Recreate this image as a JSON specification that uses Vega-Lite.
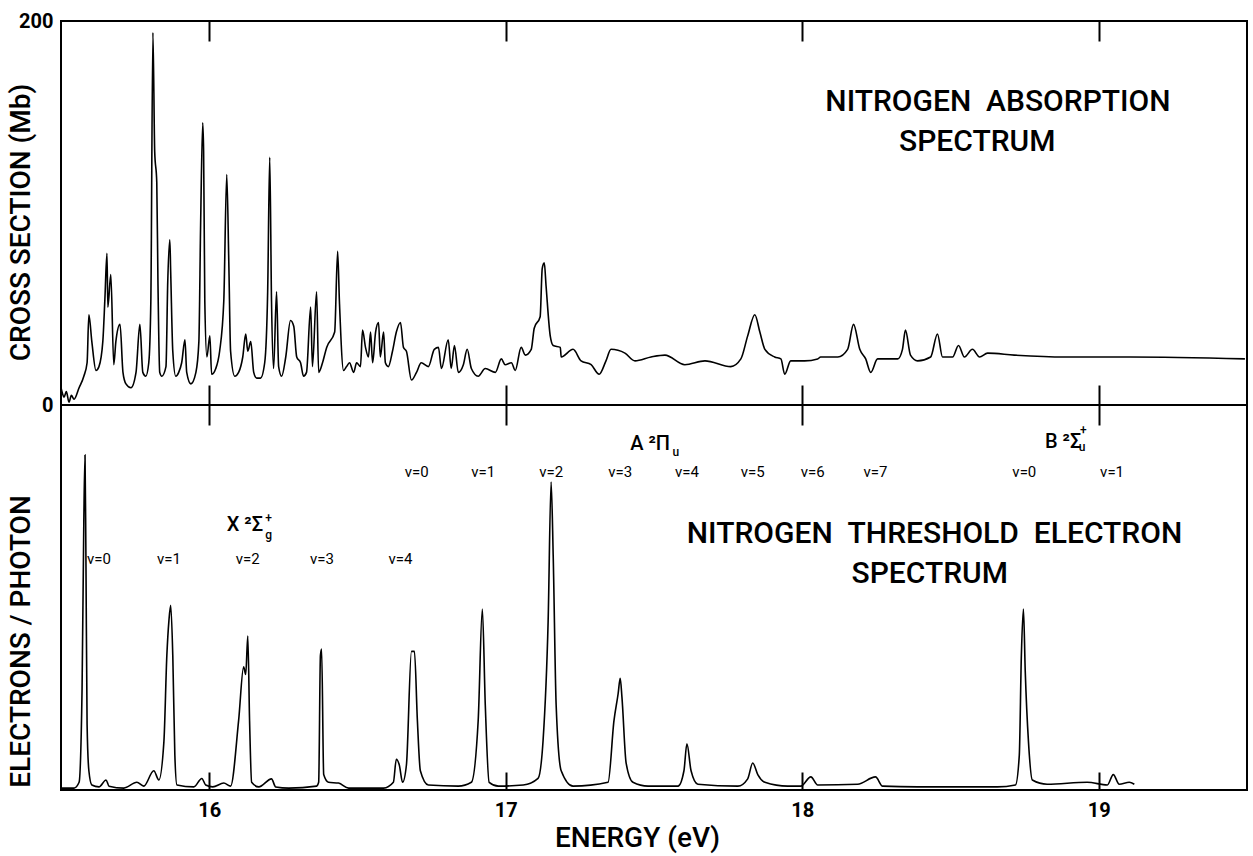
{
"$schema":"https://vega.github.io/schema/vega-lite/v6.json",
"background":"white",
"padding":{"left":6,"top":10,"right":5,"bottom":5},
"config":{"view":{"stroke":"black","strokeWidth":2},
"axis":{"labelFont":"Roboto","titleFont":"Roboto","labelColor":"black","titleColor":"black","tickColor":"black","grid":false,"labelFlush":false,"labelOverlap":false},
"text":{"font":"Roboto","color":"black"}},
"datasets":{
"absorption":[{"E":15.500,"y":9},{"E":15.505,"y":6},{"E":15.510,"y":4},{"E":15.518,"y":7},{"E":15.527,"y":1.5},{"E":15.535,"y":5},{"E":15.544,"y":3},{"E":15.561,"y":9},{"E":15.577,"y":15},{"E":15.588,"y":22},{"E":15.594,"y":47},{"E":15.604,"y":33},{"E":15.618,"y":18},{"E":15.628,"y":20},{"E":15.641,"y":33},{"E":15.648,"y":55},{"E":15.655,"y":79},{"E":15.658,"y":51},{"E":15.668,"y":68},{"E":15.678,"y":21},{"E":15.685,"y":33},{"E":15.699,"y":42},{"E":15.709,"y":17},{"E":15.719,"y":11},{"E":15.736,"y":9},{"E":15.753,"y":17},{"E":15.766,"y":42},{"E":15.776,"y":17},{"E":15.786,"y":15},{"E":15.796,"y":22},{"E":15.803,"y":54},{"E":15.810,"y":194},{"E":15.816,"y":132},{"E":15.823,"y":116},{"E":15.827,"y":64},{"E":15.833,"y":17},{"E":15.840,"y":15},{"E":15.854,"y":20},{"E":15.860,"y":64},{"E":15.867,"y":86},{"E":15.870,"y":69},{"E":15.877,"y":28},{"E":15.887,"y":15},{"E":15.897,"y":17},{"E":15.907,"y":22},{"E":15.918,"y":34},{"E":15.924,"y":17},{"E":15.938,"y":11},{"E":15.955,"y":17},{"E":15.965,"y":33},{"E":15.971,"y":95},{"E":15.978,"y":147},{"E":15.981,"y":132},{"E":15.985,"y":54},{"E":15.992,"y":25},{"E":16.002,"y":36},{"E":16.008,"y":16},{"E":16.022,"y":19},{"E":16.035,"y":28},{"E":16.049,"y":54},{"E":16.059,"y":120},{"E":16.066,"y":74},{"E":16.072,"y":28},{"E":16.086,"y":15},{"E":16.099,"y":17},{"E":16.113,"y":25},{"E":16.123,"y":37},{"E":16.130,"y":28},{"E":16.140,"y":33},{"E":16.150,"y":17},{"E":16.160,"y":14},{"E":16.173,"y":14},{"E":16.187,"y":22},{"E":16.197,"y":59},{"E":16.204,"y":129},{"E":16.210,"y":54},{"E":16.217,"y":19},{"E":16.227,"y":59},{"E":16.234,"y":20},{"E":16.244,"y":15},{"E":16.258,"y":25},{"E":16.274,"y":44},{"E":16.285,"y":41},{"E":16.295,"y":25},{"E":16.308,"y":22},{"E":16.318,"y":15},{"E":16.328,"y":17},{"E":16.342,"y":51},{"E":16.348,"y":20},{"E":16.362,"y":59},{"E":16.369,"y":17},{"E":16.382,"y":22},{"E":16.396,"y":30},{"E":16.423,"y":38},{"E":16.433,"y":80},{"E":16.439,"y":54},{"E":16.453,"y":18},{"E":16.463,"y":20},{"E":16.473,"y":22},{"E":16.487,"y":17},{"E":16.497,"y":22},{"E":16.510,"y":20},{"E":16.517,"y":39},{"E":16.527,"y":30},{"E":16.537,"y":25},{"E":16.544,"y":38},{"E":16.551,"y":22},{"E":16.561,"y":38},{"E":16.571,"y":43},{"E":16.577,"y":25},{"E":16.588,"y":38},{"E":16.594,"y":22},{"E":16.604,"y":20},{"E":16.618,"y":28},{"E":16.631,"y":38},{"E":16.645,"y":43},{"E":16.655,"y":30},{"E":16.665,"y":28},{"E":16.682,"y":13},{"E":16.699,"y":17},{"E":16.715,"y":22},{"E":16.739,"y":20},{"E":16.759,"y":29},{"E":16.773,"y":30},{"E":16.783,"y":19},{"E":16.806,"y":34},{"E":16.816,"y":19},{"E":16.827,"y":31},{"E":16.840,"y":17},{"E":16.857,"y":21},{"E":16.870,"y":29},{"E":16.884,"y":19},{"E":16.907,"y":15},{"E":16.931,"y":19},{"E":16.965,"y":17},{"E":16.985,"y":24},{"E":16.998,"y":21},{"E":17.019,"y":22},{"E":17.032,"y":18},{"E":17.052,"y":30},{"E":17.066,"y":26},{"E":17.086,"y":29},{"E":17.096,"y":40},{"E":17.116,"y":46},{"E":17.123,"y":71},{"E":17.130,"y":74},{"E":17.136,"y":62},{"E":17.150,"y":36},{"E":17.160,"y":31},{"E":17.184,"y":30},{"E":17.187,"y":25},{"E":17.227,"y":29},{"E":17.254,"y":23},{"E":17.288,"y":21},{"E":17.315,"y":16},{"E":17.338,"y":23},{"E":17.355,"y":29},{"E":17.402,"y":27},{"E":17.436,"y":23},{"E":17.490,"y":25},{"E":17.537,"y":26},{"E":17.604,"y":21},{"E":17.672,"y":23},{"E":17.759,"y":20},{"E":17.793,"y":24},{"E":17.816,"y":36},{"E":17.840,"y":47},{"E":17.857,"y":38},{"E":17.874,"y":29},{"E":17.907,"y":25},{"E":17.928,"y":24},{"E":17.941,"y":16},{"E":17.961,"y":23},{"E":18.008,"y":23},{"E":18.052,"y":24},{"E":18.062,"y":25},{"E":18.120,"y":25},{"E":18.153,"y":29},{"E":18.173,"y":42},{"E":18.194,"y":29},{"E":18.214,"y":24},{"E":18.231,"y":17},{"E":18.254,"y":24},{"E":18.322,"y":24},{"E":18.338,"y":29},{"E":18.348,"y":39},{"E":18.365,"y":26},{"E":18.389,"y":23},{"E":18.433,"y":25},{"E":18.456,"y":37},{"E":18.473,"y":25},{"E":18.507,"y":25},{"E":18.527,"y":31},{"E":18.547,"y":25},{"E":18.574,"y":29},{"E":18.598,"y":25},{"E":18.625,"y":27},{"E":18.715,"y":26},{"E":18.884,"y":25},{"E":19.106,"y":25},{"E":19.493,"y":24}],
"tes":[{"E":15.503,"y":0.5},{"E":15.544,"y":0.5},{"E":15.561,"y":2},{"E":15.571,"y":26},{"E":15.577,"y":70},{"E":15.581,"y":87},{"E":15.584,"y":61},{"E":15.588,"y":17},{"E":15.594,"y":5},{"E":15.604,"y":1.3},{"E":15.628,"y":0.8},{"E":15.652,"y":2.6},{"E":15.662,"y":1},{"E":15.712,"y":0.5},{"E":15.756,"y":2},{"E":15.779,"y":1},{"E":15.813,"y":5},{"E":15.830,"y":2.6},{"E":15.847,"y":12.5},{"E":15.857,"y":35},{"E":15.864,"y":44},{"E":15.870,"y":48},{"E":15.877,"y":35},{"E":15.884,"y":9},{"E":15.891,"y":1.3},{"E":15.948,"y":0.8},{"E":15.975,"y":3},{"E":15.988,"y":1.3},{"E":16.012,"y":0.8},{"E":16.049,"y":1.8},{"E":16.072,"y":1},{"E":16.099,"y":18},{"E":16.116,"y":32},{"E":16.123,"y":30},{"E":16.130,"y":40},{"E":16.136,"y":18},{"E":16.143,"y":2},{"E":16.167,"y":0.8},{"E":16.210,"y":2.9},{"E":16.224,"y":0.8},{"E":16.268,"y":0.5},{"E":16.362,"y":1},{"E":16.369,"y":2},{"E":16.375,"y":35},{"E":16.379,"y":36.6},{"E":16.386,"y":4},{"E":16.402,"y":2},{"E":16.436,"y":1.8},{"E":16.470,"y":0.5},{"E":16.588,"y":0.5},{"E":16.621,"y":2},{"E":16.631,"y":8},{"E":16.641,"y":6.5},{"E":16.652,"y":2},{"E":16.665,"y":6.5},{"E":16.682,"y":36},{"E":16.692,"y":36},{"E":16.702,"y":18},{"E":16.712,"y":5},{"E":16.739,"y":1.3},{"E":16.840,"y":1},{"E":16.884,"y":2},{"E":16.907,"y":18},{"E":16.921,"y":47},{"E":16.931,"y":22},{"E":16.944,"y":2},{"E":16.975,"y":1},{"E":17.059,"y":1.3},{"E":17.109,"y":3},{"E":17.126,"y":13},{"E":17.143,"y":44},{"E":17.153,"y":80},{"E":17.160,"y":61},{"E":17.170,"y":22},{"E":17.187,"y":5},{"E":17.227,"y":1},{"E":17.345,"y":2},{"E":17.365,"y":18},{"E":17.379,"y":25},{"E":17.386,"y":29},{"E":17.392,"y":24},{"E":17.406,"y":7},{"E":17.429,"y":2},{"E":17.480,"y":1},{"E":17.581,"y":1},{"E":17.601,"y":5},{"E":17.611,"y":12},{"E":17.625,"y":5},{"E":17.648,"y":1.5},{"E":17.783,"y":1},{"E":17.816,"y":2.9},{"E":17.833,"y":7},{"E":17.850,"y":4},{"E":17.874,"y":2},{"E":17.951,"y":1},{"E":17.995,"y":1},{"E":18.029,"y":3.4},{"E":18.052,"y":1.3},{"E":18.187,"y":1.5},{"E":18.247,"y":3.4},{"E":18.271,"y":1},{"E":18.389,"y":0.8},{"E":18.658,"y":0.8},{"E":18.719,"y":1.3},{"E":18.732,"y":9},{"E":18.739,"y":35},{"E":18.746,"y":47},{"E":18.752,"y":31},{"E":18.763,"y":12.5},{"E":18.776,"y":2.6},{"E":18.826,"y":1.5},{"E":18.961,"y":2},{"E":19.029,"y":1.3},{"E":19.049,"y":4},{"E":19.069,"y":1.5},{"E":19.103,"y":2},{"E":19.120,"y":1.5}],
"toptext":[{"E":18.66,"y":157.8,"t":"NITROGEN\u00a0\u00a0ABSORPTION"},{"E":18.59,"y":137,"t":"SPECTRUM"}],
"bottext":[{"E":18.446,"y":66.5,"t":"NITROGEN\u00a0\u00a0THRESHOLD\u00a0\u00a0ELECTRON"},{"E":18.43,"y":56.1,"t":"SPECTRUM"}],
"vlabels":[{"E":15.628,"y":60,"t":"v=0"},{"E":15.864,"y":60,"t":"v=1"},{"E":16.13,"y":60,"t":"v=2"},{"E":16.38,"y":60,"t":"v=3"},{"E":16.645,"y":60,"t":"v=4"},{"E":16.70,"y":82.6,"t":"v=0"},{"E":16.924,"y":82.6,"t":"v=1"},{"E":17.153,"y":82.6,"t":"v=2"},{"E":17.386,"y":82.6,"t":"v=3"},{"E":17.611,"y":82.6,"t":"v=4"},{"E":17.833,"y":82.6,"t":"v=5"},{"E":18.035,"y":82.6,"t":"v=6"},{"E":18.247,"y":82.6,"t":"v=7"},{"E":18.749,"y":82.6,"t":"v=0"},{"E":19.045,"y":82.6,"t":"v=1"}],
"states":[{"E":16.120,"y":68.8,"t":"X ²Σ"},{"E":17.487,"y":89.9,"t":"A ²Π"},{"E":18.880,"y":90.4,"t":"B ²Σ"}],
"scripts":[{"E":16.200,"y":70.6,"t":"+"},{"E":16.200,"y":66.2,"t":"g"},{"E":17.574,"y":87.8,"t":"u"},{"E":18.948,"y":93.5,"t":"+"},{"E":18.944,"y":89.1,"t":"u"}]
},
"spacing":0,
"bounds":"flush",
"vconcat":[
{"width":1186,"height":384,
"layer":[
{"data":{"name":"absorption"},"mark":{"type":"line","color":"black","strokeWidth":1.6,"interpolate":"monotone"},
"encoding":{
"x":{"field":"E","type":"quantitative","scale":{"domain":[15.5,19.5],"nice":false,"zero":false},
"axis":{"orient":"bottom","values":[16,17,18,19],"labels":false,"domain":false,"tickSize":40,"offset":-20,"tickWidth":2,"title":null}},
"y":{"field":"y","type":"quantitative","scale":{"domain":[0,200],"nice":false},
"axis":{"values":[0,200],"domain":false,"ticks":false,"tickSize":0,"labelPadding":8,"labelFontSize":20,"labelFontWeight":"bold","title":"CROSS SECTION (Mb)","titleFontSize":28,"titleFontWeight":500,"minExtent":20,"maxExtent":20,"titlePadding":6,"titleY":201}}}},
{"data":{"name":"toptext"},"mark":{"type":"text","fontSize":30,"fontWeight":500},
"encoding":{
"x":{"field":"E","type":"quantitative","axis":{"orient":"top","values":[16,17,18,19],"labels":false,"domain":false,"tickSize":20,"offset":-20,"tickWidth":2,"title":null}},
"y":{"field":"y","type":"quantitative"},
"text":{"field":"t"}}}
],
"resolve":{"axis":{"x":"independent"}}},
{"width":1186,"height":385,
"layer":[
{"data":{"name":"tes"},"mark":{"type":"line","color":"black","strokeWidth":1.6,"interpolate":"monotone"},
"encoding":{
"x":{"field":"E","type":"quantitative","scale":{"domain":[15.5,19.5],"nice":false,"zero":false},
"axis":{"orient":"bottom","values":[16,17,18,19],"ticks":false,"tickSize":0,"domain":false,"labelPadding":10,"labelFontSize":20,"labelFontWeight":"bold","title":"ENERGY (eV)","titleFontSize":28,"titleFontWeight":500,"titlePadding":4,"titleX":576}},
"y":{"field":"y","type":"quantitative","scale":{"domain":[0,100],"nice":false},
"axis":{"labels":false,"ticks":false,"tickSize":0,"domain":false,"title":"ELECTRONS / PHOTON","titleFontSize":28,"titleFontWeight":500,"minExtent":20,"maxExtent":20,"titlePadding":6,"titleY":236}}}},
{"data":{"name":"bottext"},"mark":{"type":"text","fontSize":30,"fontWeight":500},
"encoding":{
"x":{"field":"E","type":"quantitative","axis":{"orient":"bottom","values":[16,17,18,19],"labels":false,"domain":false,"tickSize":18,"offset":-18,"tickWidth":2,"title":null}},
"y":{"field":"y","type":"quantitative"},
"text":{"field":"t"}}},
{"data":{"name":"vlabels"},"mark":{"type":"text","fontSize":15},
"encoding":{"x":{"field":"E","type":"quantitative","axis":null},"y":{"field":"y","type":"quantitative"},"text":{"field":"t"}}},
{"data":{"name":"states"},"mark":{"type":"text","fontSize":20,"fontWeight":500},
"encoding":{"x":{"field":"E","type":"quantitative","axis":null},"y":{"field":"y","type":"quantitative"},"text":{"field":"t"}}},
{"data":{"name":"scripts"},"mark":{"type":"text","fontSize":12,"fontWeight":500},
"encoding":{"x":{"field":"E","type":"quantitative","axis":null},"y":{"field":"y","type":"quantitative"},"text":{"field":"t"}}}
],
"resolve":{"axis":{"x":"independent"}}}
]
}
